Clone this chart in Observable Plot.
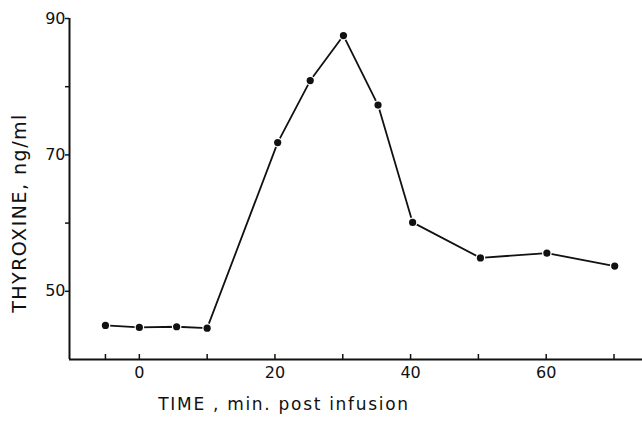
<!DOCTYPE html>
<html>
<head>
<meta charset="utf-8">
<script src="https://cdn.jsdelivr.net/npm/d3@7"></script>
<script src="https://cdn.jsdelivr.net/npm/@observablehq/plot@0.6"></script>
<style>
  html, body { margin: 0; padding: 0; background: #fff; }
  svg { display: block; }
</style>
</head>
<body>
<div id="chart"></div>
<script>
// Data
const times = [-5, 0, 5.5, 10, 20.4, 25.2, 30.1, 35.2, 40.3, 50.3, 60.1, 70.1];
const thyroxine = [45.0, 44.7, 44.8, 44.6, 71.8, 80.9, 87.5, 77.3, 60.1, 54.9, 55.6, 53.7];
const xTicks = [-5, 0, 10, 20, 30, 40, 50, 60, 70];
const xTickLabels = [0, 20, 40, 60];
const yTicks = [50, 60, 70, 80, 90];
const yTickLabels = [50, 70, 90];
const xTitle = "TIME , min. post infusion";
const yTitle = "THYROXINE, ng/ml";

const xDomain = [-10.3, 74.2];
const yDomain = [40, 90];

const data = times.map((t, i) => ({t, v: thyroxine[i]}));

const font = "DejaVu Sans, sans-serif";

const chart = Plot.plot({
  width: 642,
  height: 427,
  marginLeft: 69,
  marginRight: 0,
  marginTop: 18,
  marginBottom: 68,
  style: {fontFamily: font, fontSize: "16px", color: "#111", background: "#fff"},
  x: {domain: xDomain},
  y: {domain: yDomain},
  marks: [
    Plot.ruleX([xDomain[0]], {y1: yDomain[0], y2: yDomain[1], stroke: "#111", strokeWidth: 2}),
    Plot.ruleY([yDomain[0]], {stroke: "#111", strokeWidth: 2}),
    Plot.axisY(yTicks, {
      tickSize: 4, tickPadding: 0, strokeWidth: 1.5,
      tickFormat: d => yTickLabels.includes(d) ? String(d) : "",
      fontSize: 16, label: null
    }),
    Plot.axisX(xTicks, {
      tickSize: -5, tickPadding: 12, strokeWidth: 1.5,
      tickFormat: d => xTickLabels.includes(d) ? String(d) : "",
      fontSize: 16, label: null
    }),
    Plot.line(data, {x: "t", y: "v", stroke: "#111", strokeWidth: 1.8}),
    Plot.dot(data, {x: "t", y: "v", r: 3.6, fill: "#111", stroke: "#fff", strokeWidth: 2.5, paintOrder: "stroke"}),
    Plot.text([yTitle], {frameAnchor: "left", dx: -50, dy: 24, rotate: -90, textAnchor: "middle", fontSize: 19, fill: "#111", text: d => d, style: {letterSpacing: "1.5px"}}),
    Plot.text([xTitle], {frameAnchor: "bottom", dx: -72, dy: 50, fontSize: 17, fill: "#111", text: d => d})
  ]
});

chart.querySelectorAll("text").forEach(t => {
  if (t.textContent === yTitle) t.setAttribute("letter-spacing", "1.5");
  if (t.textContent === xTitle) t.setAttribute("letter-spacing", "1.7");
});

document.getElementById("chart").appendChild(chart);
</script>
</body>
</html>
